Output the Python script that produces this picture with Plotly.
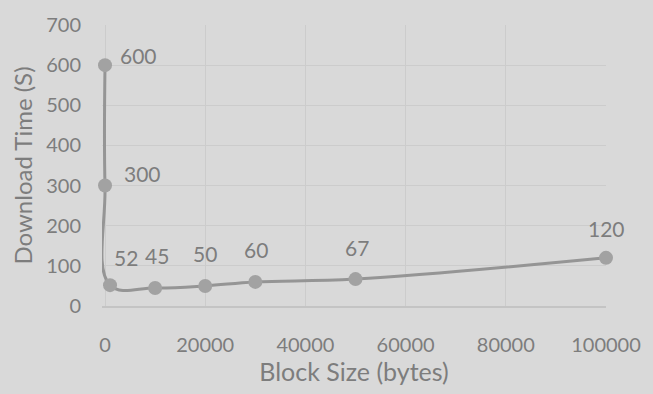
import plotly.graph_objects as go

# Download time measured for each block size
block_size = [0, 0, 1000, 10000, 20000, 30000, 50000, 100000]
download_time = [600, 300, 52, 45, 50, 60, 67, 120]

# Per-point label offsets (pixels) so labels sit clear of the curve
label_dx = [33, 37, 16, 2, 0, 1, 1, 0]
label_dy = [10, 12, 28, 32, 32, 32, 32, 29]

BG = "#d9d9d9"
INK = "#7d7d7d"
GRID = "#cccccc"
SERIES = "#959595"
FONT = "Lato, 'Open Sans', sans-serif"

fig = go.Figure()
fig.add_trace(go.Scatter(
    x=block_size,
    y=download_time,
    mode="lines+markers",
    line=dict(color=SERIES, width=3, shape="spline", smoothing=1.1),
    marker=dict(color="#a2a2a2", size=14),
    cliponaxis=False,
    hoverinfo="skip",
    showlegend=False,
))

for xv, yv, dx, dy in zip(block_size, download_time, label_dx, label_dy):
    fig.add_annotation(
        x=xv, y=yv, text=str(yv), showarrow=False,
        xshift=dx, yshift=dy,
        font=dict(family=FONT, size=21, color=INK),
    )

fig.update_layout(
    width=653, height=394,
    margin=dict(l=102, r=38, t=23, b=87),
    paper_bgcolor=BG, plot_bgcolor=BG,
    font=dict(family=FONT, size=20, color=INK),
)
fig.update_xaxes(
    range=[-600, 100000],
    tickvals=[0, 20000, 40000, 60000, 80000, 100000],
    ticktext=["0", "20000", "40000", "60000", "80000", "100000"],
    showgrid=True, gridcolor=GRID, gridwidth=1,
    zeroline=False,
    showline=True, linecolor="#c4c4c4", linewidth=2,
    ticks="", ticklabelstandoff=20,
    title=dict(text="Block Size (bytes)", font=dict(family=FONT, size=25, color=INK), standoff=8),
)
fig.update_yaxes(
    range=[0, 700],
    tickvals=[0, 100, 200, 300, 400, 500, 600, 700],
    showgrid=True, gridcolor=GRID, gridwidth=1,
    zeroline=False, showline=False,
    ticks="", ticklabelstandoff=20,
    title=dict(text="Download Time (S)", font=dict(family=FONT, size=24, color=INK), standoff=6),
)

fig.write_html("out.html")
